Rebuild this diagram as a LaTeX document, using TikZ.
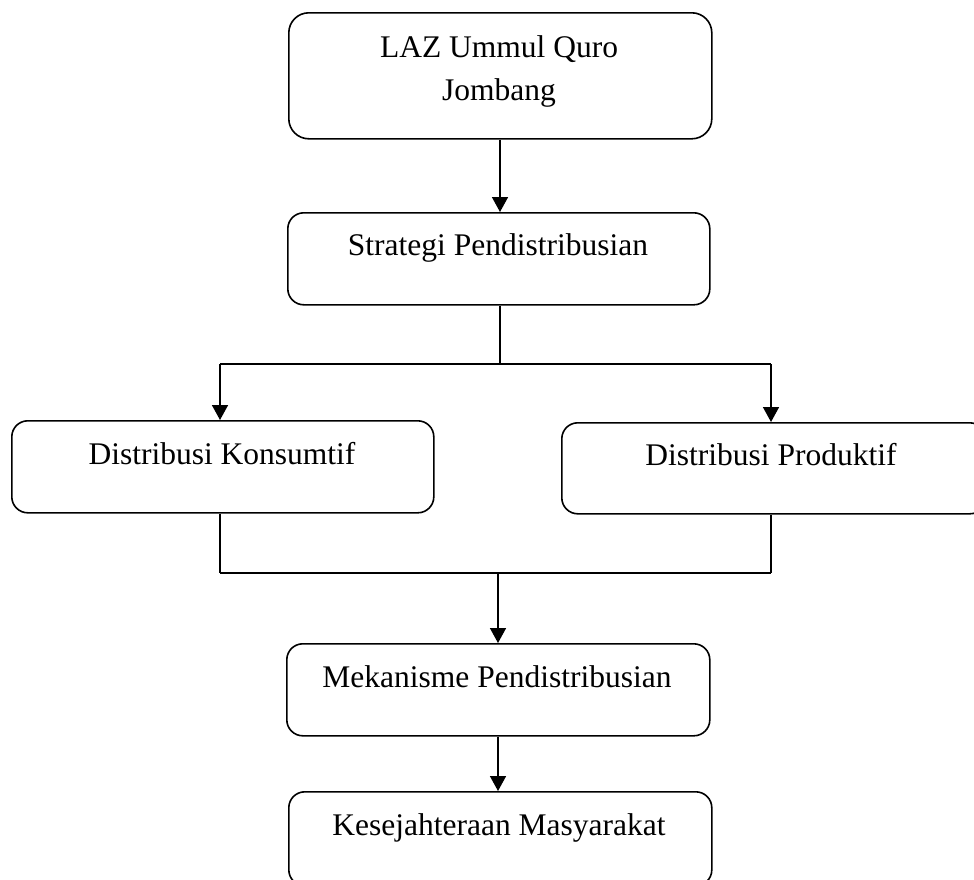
\documentclass[tikz,border=0pt]{standalone}
\usepackage{fontspec}
\setmainfont{Liberation Serif}
\usetikzlibrary{arrows.meta}
\begin{document}
\begin{tikzpicture}[x=1pt,y=-1pt,
  box/.style={draw, line width=1.6pt, rounded corners=16pt, anchor=north west, inner sep=0pt},
  lbl/.style={anchor=base, font=\fontsize{31.5}{43}\selectfont, inner sep=0pt},
  conn/.style={line width=1.6pt},
  arr/.style={line width=1.6pt, -{Triangle[width=16pt,length=15pt]}}]
\useasboundingbox (0,0) rectangle (974,879);
% boxes
\node[box, rounded corners=20pt, minimum width=423pt, minimum height=126pt] (b1) at (288,12) {};
\node[box, minimum width=422pt, minimum height=92pt] (b2) at (287,212) {};
\node[box, minimum width=422pt, minimum height=92pt] (b3) at (11,420) {};
\node[box, minimum width=424pt, minimum height=91pt] (b4) at (561,422) {};
\node[box, minimum width=423pt, minimum height=92pt] (b5) at (286,643) {};
\node[box, minimum width=423pt, minimum height=94pt] (b6) at (288,791) {};
% labels
\node[lbl] (t1a) at (499,57) {LAZ Ummul Quro};
\node[lbl] (t1b) at (499,100) {Jombang};
\node[lbl] (t2) at (498,255) {Strategi Pendistribusian};
\node[lbl] (t3) at (222,464) {Distribusi Konsumtif};
\node[lbl] (t4) at (771,465) {Distribusi Produktif};
\node[lbl] (t5) at (497,687) {Mekanisme Pendistribusian};
\node[lbl] (t6) at (499,835) {Kesejahteraan Masyarakat};
% connectors
\coordinate (s1) at (500,364);
\coordinate (sl) at (220,364);
\coordinate (sr) at (771,364);
\coordinate (m1) at (220,573);
\coordinate (m2) at (771,573);
\coordinate (mc) at (498,573);
\draw[arr] (b1.south -| 500,0) -- (b2.north -| 500,0);
\draw[conn] (b2.south -| 500,0) -- (s1);
\draw[conn] (sl) -- (sr);
\draw[arr] (sl) -- (b3.north -| sl);
\draw[arr] (sr) -- (b4.north -| sr);
\draw[conn] (b3.south -| m1) -- (m1);
\draw[conn] (b4.south -| m2) -- (m2);
\draw[conn] (m1) -- (m2);
\draw[arr] (mc) -- (b5.north -| mc);
\draw[arr] (b5.south -| mc) -- (b6.north -| mc);
\end{tikzpicture}
\end{document}
